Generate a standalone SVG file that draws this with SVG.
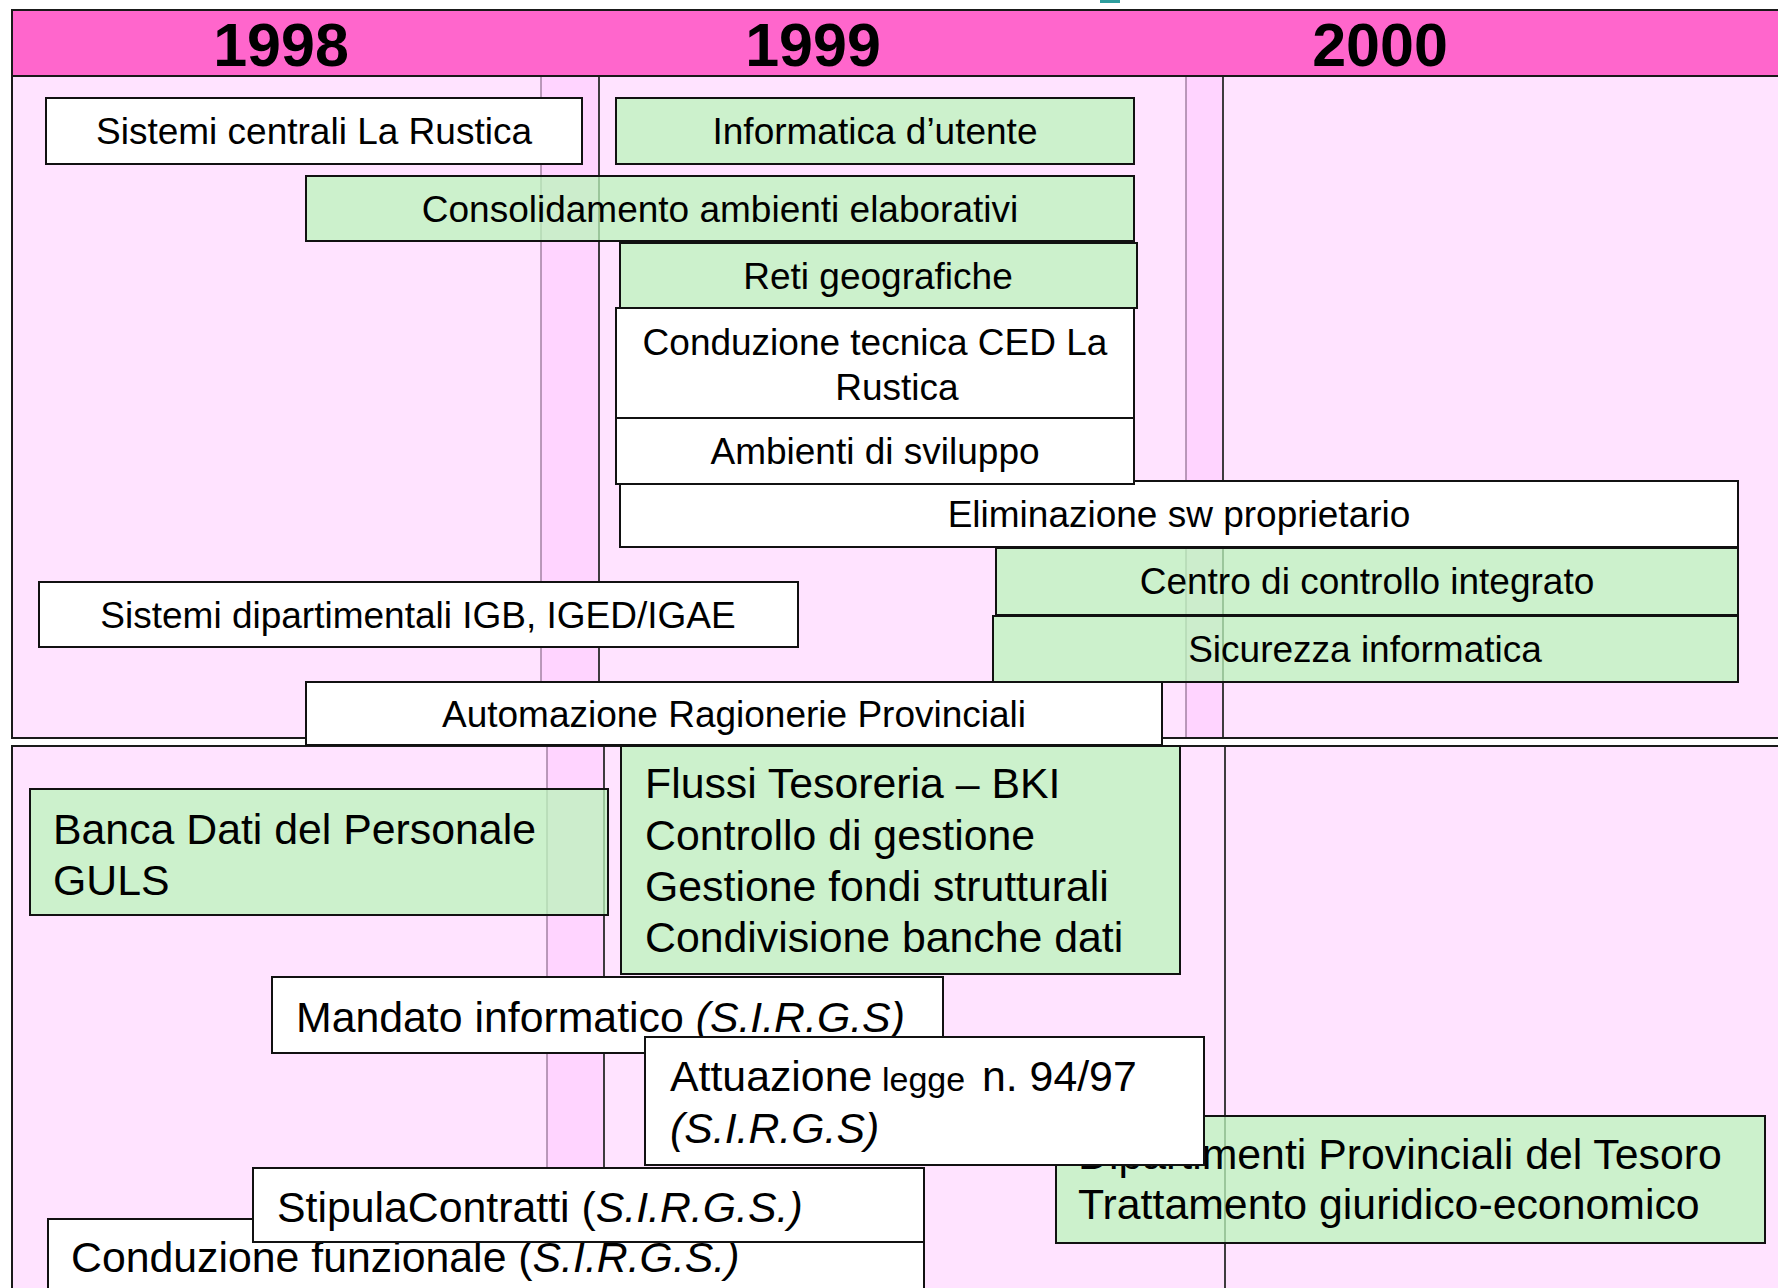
<svg xmlns="http://www.w3.org/2000/svg" width="1778" height="1288" viewBox="0 0 1778 1288">
  <style>
    .panel { fill: #FFE3FF; stroke: #1a1a1a; stroke-width: 2; }
    .stripe { fill: #FFD4FF; stroke: none; }
    .ln-soft { stroke: #8A6A8A; stroke-width: 1.2; }
    .ln-dark { stroke: #2a2a2a; stroke-width: 1.8; }
    .bw { fill: #FFFFFF; stroke: #111111; stroke-width: 2; }
    .bg { fill: rgb(187,245,187); fill-opacity: 0.75; stroke: #111111; stroke-width: 2; }
    .t { font-family: "Liberation Sans", Arial, "Helvetica", sans-serif; fill: #000000; }
    .yr { font-size: 61px; font-weight: bold; text-anchor: middle; }
    .up { font-size: 37px; text-anchor: middle; }
    .lo { font-size: 42.8px; }
    .it { font-style: italic; }
  </style>

  <rect x="0" y="0" width="1778" height="1288" fill="#FFFFFF"/>
  <!-- small teal mark at top edge -->
  <rect x="1100" y="0" width="20" height="3" fill="#2E9E9E"/>

  <!-- year header -->
  <g id="header">
    <rect x="12" y="10" width="1780" height="66" fill="#FF66CC" stroke="#1a1a1a" stroke-width="2"/>
    <text class="t yr" x="281" y="66">1998</text>
    <text class="t yr" x="813" y="66">1999</text>
    <text class="t yr" x="1380" y="66">2000</text>
  </g>

  <!-- upper panel: infrastructure -->
  <g id="upper-panel">
    <rect class="panel" x="12" y="76" width="1780" height="662"/>
    <rect class="stripe" x="541" y="77" width="58" height="660"/>
    <rect class="stripe" x="1186" y="77" width="37" height="660"/>
    <line class="ln-soft" x1="541" y1="77" x2="541" y2="737"/>
    <line class="ln-dark" x1="599" y1="77" x2="599" y2="737"/>
    <line class="ln-soft" x1="1186" y1="77" x2="1186" y2="737"/>
    <line class="ln-dark" x1="1223" y1="77" x2="1223" y2="737"/>
  </g>

  <!-- lower panel: applications -->
  <g id="lower-panel">
    <rect class="panel" x="12" y="746" width="1780" height="560"/>
    <rect class="stripe" x="547" y="747" width="57" height="545"/>
    <line class="ln-soft" x1="547" y1="747" x2="547" y2="1290"/>
    <line class="ln-dark" x1="604" y1="747" x2="604" y2="1290"/>
    <line class="ln-dark" x1="1225" y1="747" x2="1225" y2="1290"/>
  </g>

  <!-- upper panel bars -->
  <g id="sistemi-centrali">
    <rect class="bw" x="46" y="98" width="536" height="66"/>
    <text class="t up" x="314" y="144">Sistemi centrali La Rustica</text>
  </g>
  <g id="informatica-utente">
    <rect class="bg" x="616" y="98" width="518" height="66"/>
    <text class="t up" x="875" y="144">Informatica d’utente</text>
  </g>
  <g id="consolidamento">
    <rect class="bg" x="306" y="176" width="828" height="65"/>
    <text class="t up" x="720" y="222">Consolidamento ambienti elaborativi</text>
  </g>
  <g id="reti-geografiche">
    <rect class="bg" x="620" y="243" width="517" height="65"/>
    <text class="t up" x="878" y="289">Reti geografiche</text>
  </g>
  <g id="conduzione-tecnica">
    <rect class="bw" x="616" y="308" width="518" height="110"/>
    <text class="t up" x="875" y="355">Conduzione tecnica CED La</text>
    <text class="t up" x="897" y="400">Rustica</text>
  </g>
  <g id="eliminazione-sw">
    <rect class="bw" x="620" y="481" width="1118" height="66"/>
    <text class="t up" x="1179" y="527">Eliminazione sw proprietario</text>
  </g>
  <g id="ambienti-sviluppo">
    <rect class="bw" x="616" y="418" width="518" height="66"/>
    <text class="t up" x="875" y="464">Ambienti di sviluppo</text>
  </g>
  <g id="centro-controllo">
    <rect class="bg" x="996" y="548" width="742" height="67"/>
    <text class="t up" x="1367" y="594">Centro di controllo integrato</text>
  </g>
  <g id="sicurezza">
    <rect class="bg" x="993" y="616" width="745" height="66"/>
    <text class="t up" x="1365" y="662">Sicurezza informatica</text>
  </g>
  <g id="sistemi-dipartimentali">
    <rect class="bw" x="39" y="582" width="759" height="65"/>
    <text class="t up" x="418" y="628">Sistemi dipartimentali IGB, IGED/IGAE</text>
  </g>
  <g id="automazione-ragionerie">
    <rect class="bw" x="306" y="682" width="856" height="63"/>
    <text class="t up" x="734" y="727">Automazione Ragionerie Provinciali</text>
  </g>

  <!-- lower panel bars -->
  <g id="banca-dati">
    <rect class="bg" x="30" y="789" width="578" height="126"/>
    <text class="t lo" x="53" y="844">Banca Dati del Personale</text>
    <text class="t lo" x="53" y="895">GULS</text>
  </g>
  <g id="flussi-tesoreria">
    <rect class="bg" x="621" y="746" width="559" height="228"/>
    <text class="t lo" x="645" y="798">Flussi Tesoreria – BKI</text>
    <text class="t lo" x="645" y="850">Controllo di gestione</text>
    <text class="t lo" x="645" y="901">Gestione fondi strutturali</text>
    <text class="t lo" x="645" y="952">Condivisione banche dati</text>
  </g>
  <g id="dipartimenti-provinciali">
    <rect class="bg" x="1056" y="1116" width="709" height="127"/>
    <text class="t lo" x="1078" y="1169">Dipartimenti Provinciali del Tesoro</text>
    <text class="t lo" x="1078" y="1219">Trattamento giuridico-economico</text>
  </g>
  <g id="mandato-informatico">
    <rect class="bw" x="272" y="977" width="671" height="76"/>
    <text class="t lo" x="296" y="1032">Mandato informatico <tspan class="it">(S.I.R.G.S)</tspan></text>
  </g>
  <g id="attuazione-legge">
    <rect class="bw" x="645" y="1037" width="559" height="128"/>
    <text class="t lo" x="670" y="1091">Attuazione <tspan x="882" font-size="34">legge</tspan><tspan x="982">n. 94/97</tspan></text>
    <text class="t lo it" x="670" y="1143">(S.I.R.G.S)</text>
  </g>
  <g id="conduzione-funzionale">
    <rect class="bw" x="48" y="1219" width="876" height="90"/>
    <text class="t lo" x="71" y="1272">Conduzione funzionale (<tspan class="it">S.I.R.G.S.)</tspan></text>
  </g>
  <g id="stipula-contratti">
    <rect class="bw" x="253" y="1168" width="671" height="74"/>
    <text class="t lo" x="277" y="1222">StipulaContratti (<tspan class="it">S.I.R.G.S.)</tspan></text>
  </g>

  <!-- no connectors in this timeline -->
  <g id="connectors"/>
</svg>
